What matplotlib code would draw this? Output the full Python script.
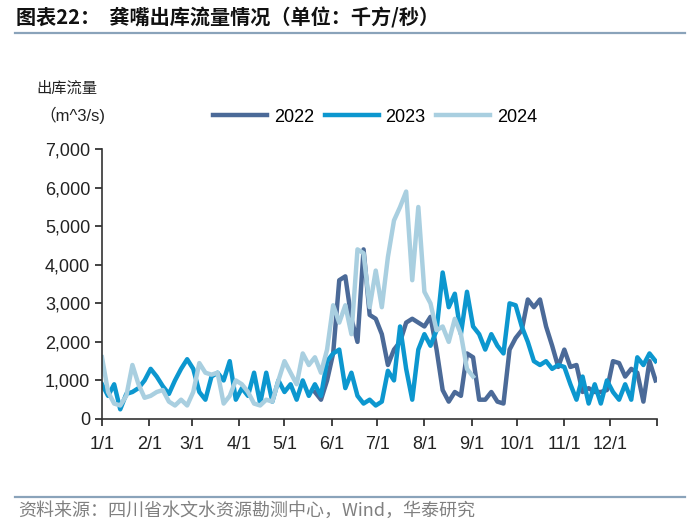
import numpy as np
import matplotlib
matplotlib.use('Agg')
from matplotlib import pyplot as plt
from matplotlib.ticker import FuncFormatter

plt.rcParams['font.family'] = ['Liberation Sans', 'Noto Sans CJK SC', 'DejaVu Sans']

# month labels and day-of-year where each month starts
month_labels = ['1/1', '2/1', '3/1', '4/1', '5/1', '6/1', '7/1', '8/1', '9/1', '10/1', '11/1', '12/1']
month_start = [0, 31, 59, 90, 120, 151, 181, 212, 243, 273, 304, 334]

# outflow, m^3/s, one reading every 4 days
days_2022 = list(range(140, 365, 4))
flow_2022 = [700, 500, 1000, 1700, 3600, 3700, 2600, 2000, 4400, 2700,
             2600, 2200, 1400, 1800, 2000, 2500, 2600, 2500, 2400, 2650,
             1800, 750, 450, 700, 600, 1700, 1600, 500, 500, 700,
             450, 400, 1800, 2100, 2300, 3100, 2900, 3100, 2400, 1900,
             1350, 1800, 1350, 1400, 700, 800, 700, 700, 750, 1500,
             1450, 1100, 1300, 1200, 450, 1500, 1000]

days_2023 = list(range(0, 365, 4))
flow_2023 = [900, 600, 900, 250, 650, 700, 800, 1000, 1300, 1100,
             850, 650, 1000, 1300, 1550, 1300, 700, 500, 1100, 1200,
             1000, 1500, 500, 800, 600, 1200, 400, 1200, 450, 1000,
             700, 900, 500, 1000, 600, 900, 600, 1500, 1700, 1800,
             800, 1200, 600, 400, 500, 350, 450, 1250, 1000, 2400,
             1300, 500, 1800, 2200, 1900, 2300, 3800, 2900, 3250, 2200,
             3300, 2400, 2200, 1800, 2200, 1900, 1700, 3000, 2950, 2400,
             2000, 1500, 1400, 1500, 1300, 1400, 1350, 900, 500, 1100,
             400, 900, 400, 1000, 700, 500, 900, 500, 1600, 1400,
             1700, 1500]

days_2024 = list(range(0, 245, 4))
flow_2024 = [1600, 700, 400, 350, 600, 1400, 900, 550, 600, 700,
             750, 450, 350, 500, 350, 700, 1450, 1200, 1150, 1200,
             400, 600, 1000, 900, 700, 400, 350, 500, 450, 1000,
             1500, 1200, 900, 1700, 1400, 1600, 1200, 1800, 2950, 2500,
             2950, 2200, 4400, 4300, 2900, 3850, 2900, 4200, 5150, 5500,
             5900, 3600, 5500, 3300, 3000, 2300, 2400, 2000, 2600, 2200,
             1300, 1100]

fig = plt.figure(figsize=(7, 5.29), dpi=100)
ax = fig.add_axes([0.1457, 0.208, 0.793, 0.51])

ax.plot(days_2022, flow_2022, color='#4b6a98', lw=3.2, label='2022')
ax.plot(days_2023, flow_2023, color='#0c97cf', lw=3.2, label='2023')
ax.plot(days_2024, flow_2024, color='#a9cfe0', lw=3.2, label='2024')

ax.set_xlim(0, 365)
ax.set_ylim(0, 7000)
ax.set_xticks(month_start + [365])
ax.set_xticklabels(month_labels + [''])
ax.set_yticks(range(0, 7001, 1000))
ax.yaxis.set_major_formatter(FuncFormatter(lambda v, p: f'{int(v):,}'))
ax.tick_params(labelsize=13, colors='#222222', length=5, width=1.2, direction='out')
ax.tick_params(axis='x', pad=7)
for s in ['top', 'right']:
    ax.spines[s].set_visible(False)
for s in ['left', 'bottom']:
    ax.spines[s].set_color('#333333')
    ax.spines[s].set_linewidth(1.2)

fig.legend(loc='center', bbox_to_anchor=(375 / 700, 1 - 117 / 529), ncol=3,
           frameon=False, fontsize=13, handlelength=3.0, handletextpad=0.35,
           columnspacing=0.6)

# title and labels
fig.text(16 / 700, 1 - 18 / 529, '图表22：  龚嘴出库流量情况（单位：千方/秒）',
         fontsize=14.5, fontweight='bold', family=['Noto Sans CJK SC'],
         ha='left', va='center', color='#111111')
fig.add_artist(plt.Line2D([15 / 700, 685 / 700], [1 - 33 / 529] * 2,
                          color='#8aa3ba', lw=1.6))
fig.text(67 / 700, 1 - 88 / 529, '出库流量', fontsize=11,
         family=['Noto Sans CJK SC'], ha='center', va='center', color='#222222')
fig.text(72 / 700, 1 - 115 / 529, '（m^3/s)', fontsize=12,
         family=['Liberation Sans', 'Noto Sans CJK SC'], ha='center', va='center',
         color='#222222')

fig.add_artist(plt.Line2D([15 / 700, 685 / 700], [1 - 497 / 529] * 2,
                          color='#8aa3ba', lw=1.6))
fig.text(18 / 700, 1 - 511 / 529, '资料来源：四川省水文水资源勘测中心，Wind，华泰研究',
         fontsize=13, family=['Noto Sans CJK SC'], ha='left', va='center',
         color='#808080')

fig.savefig('out.png', dpi=100)
